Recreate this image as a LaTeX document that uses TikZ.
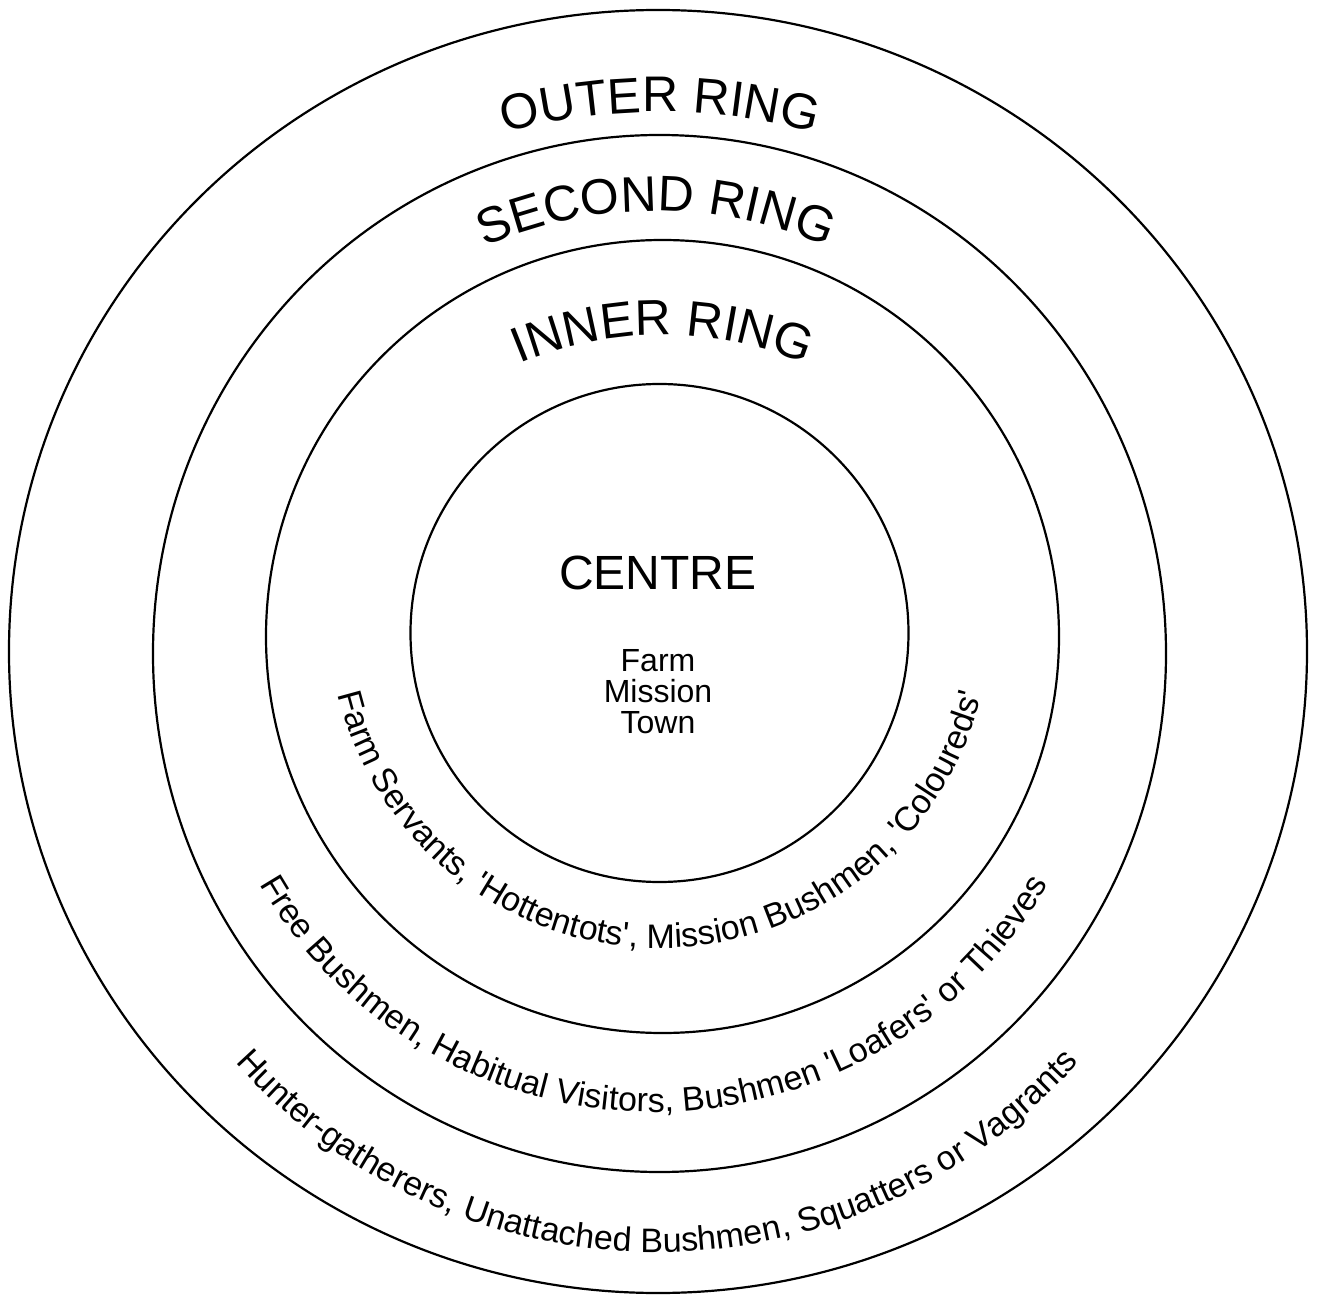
\documentclass[tikz,border=0pt]{standalone}
\usepackage{fontspec}
\setmainfont{Liberation Sans}[Ligatures=TeXOff]
\usetikzlibrary{decorations.text}
\newcommand\topfont{\fontsize{50}{60}\selectfont}
\newcommand\bandfont{\fontsize{34}{40}\selectfont}
\tikzset{
  ring/.style={draw=black, line width=2.2pt},
  arclabel/.style 2 args={decorate, decoration={text along path, text align=center, text={|#1|#2}}},
}
\begin{document}
\begin{tikzpicture}[x=1pt, y=1pt]
  \fill[white] (-660,-656) rectangle (659,645);
  \useasboundingbox (-660,-656) rectangle (659,645);
  % rings
  \draw[ring] (-2,-6.5) ellipse[x radius=649, y radius=641.5];
  \draw[ring] (-0.5,-8.5) ellipse[x radius=506.5, y radius=518.5];
  \draw[ring] (2.5,8.5) circle[radius=396.5];
  \draw[ring] (-0.5,12) circle[radius=249];
  % ring titles
  \path[shift={(0,-47)}, arclabel={\topfont}{OUTER RING}] (135:580) arc[start angle=135, end angle=45, radius=580];
  \path[shift={(-4,4)}, arclabel={\topfont}{SECOND RING}] (140:430) arc[start angle=140, end angle=40, radius=430];
  \path[shift={(3,-60)}, arclabel={\topfont}{INNER RING}] (140:370) arc[start angle=140, end angle=40, radius=370];
  % centre
  \node[font=\fontsize{48}{56}\selectfont, inner sep=0pt] (centre) at (-2,72) {CENTRE};
  \node[font=\fontsize{32}{31}\selectfont, align=center, inner sep=0pt] (places) at (-2,-47) {Farm\\Mission\\Town};
  % band texts
  \path[shift={(0,28)}, arclabel={\bandfont}{Farm Servants, 'Hottentots', Mission Bushmen, 'Coloureds'}] (178:331) arc[start angle=178, end angle=362, radius=331];
  \path[shift={(-6,-12)}, arclabel={\bandfont}{Free Bushmen, Habitual Visitors, Bushmen 'Loafers' or Thieves}] (190:455) arc[start angle=190, end angle=350, radius=455];
  \path[shift={(-3,-43)}, arclabel={\bandfont}{Hunter-gatherers, Unattached Bushmen, Squatters or Vagrants}] (200:564) arc[start angle=200, end angle=340, radius=564];
\end{tikzpicture}
\end{document}
